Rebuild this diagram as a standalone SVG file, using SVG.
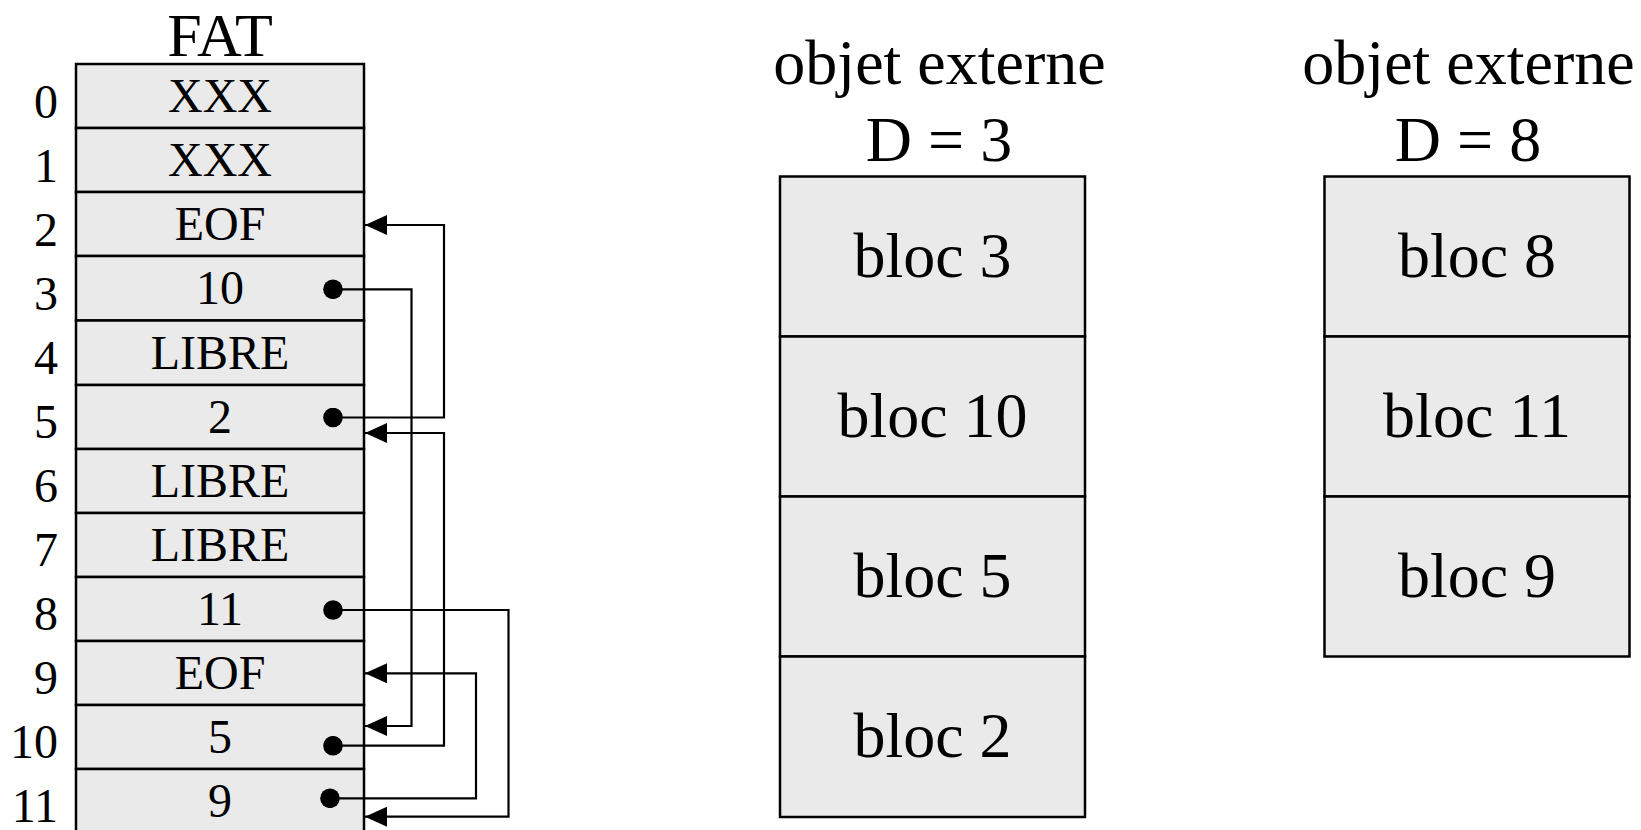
<svg xmlns="http://www.w3.org/2000/svg" width="1641" height="830" viewBox="0 0 1641 830">
<style>
text{font-family:"Liberation Serif","Times New Roman",serif;fill:#000;text-anchor:middle}
.big{font-size:64px}
.title{font-size:62px}
.mid{font-size:48px}
.idx{font-size:48px;text-anchor:end}
.cell{fill:#eaeaea;stroke:#000;stroke-width:2.5}
.conn{fill:none;stroke:#000;stroke-width:2.2;marker-start:url(#dot);marker-end:url(#arr)}
</style>
<defs>
<marker id="arr" markerUnits="userSpaceOnUse" viewBox="0 0 22 20" refX="22" refY="10" markerWidth="22" markerHeight="20" orient="auto">
<path d="M0,0 L22,10 L0,20 z" fill="#000"/>
</marker>
<marker id="dot" markerUnits="userSpaceOnUse" viewBox="0 0 20 20" refX="10" refY="10" markerWidth="20" markerHeight="20">
<circle cx="10" cy="10" r="9.8" fill="#000"/>
</marker>
</defs>
<rect width="1641" height="830" fill="#fff"/>

<g id="fat">
<text class="title" x="220" y="55.5">FAT</text>
<g id="fat-cells">
<rect class="cell" x="76" y="64" width="288" height="64"/>
<rect class="cell" x="76" y="128" width="288" height="64"/>
<rect class="cell" x="76" y="192" width="288" height="64"/>
<rect class="cell" x="76" y="256" width="288" height="64.5"/>
<rect class="cell" x="76" y="320.5" width="288" height="64.5"/>
<rect class="cell" x="76" y="385" width="288" height="64"/>
<rect class="cell" x="76" y="449" width="288" height="64"/>
<rect class="cell" x="76" y="513" width="288" height="64"/>
<rect class="cell" x="76" y="577" width="288" height="64"/>
<rect class="cell" x="76" y="641" width="288" height="64"/>
<rect class="cell" x="76" y="705" width="288" height="64"/>
<rect class="cell" x="76" y="769" width="288" height="64"/>
</g>
<g id="fat-values">
<text class="mid" x="220" y="112">XXX</text>
<text class="mid" x="220" y="176">XXX</text>
<text class="mid" x="220" y="240">EOF</text>
<text class="mid" x="220" y="304">10</text>
<text class="mid" x="220" y="368.5">LIBRE</text>
<text class="mid" x="220" y="432.5">2</text>
<text class="mid" x="220" y="496.5">LIBRE</text>
<text class="mid" x="220" y="560.5">LIBRE</text>
<text class="mid" x="220" y="624.5">11</text>
<text class="mid" x="220" y="688.5">EOF</text>
<text class="mid" x="220" y="752.5">5</text>
<text class="mid" x="220" y="816.5">9</text>
</g>
<g id="fat-index">
<text class="idx" x="58" y="117.5">0</text>
<text class="idx" x="58" y="181.5">1</text>
<text class="idx" x="58" y="245.5">2</text>
<text class="idx" x="58" y="309.5">3</text>
<text class="idx" x="58" y="373.5">4</text>
<text class="idx" x="58" y="437.5">5</text>
<text class="idx" x="58" y="501.5">6</text>
<text class="idx" x="58" y="565.5">7</text>
<text class="idx" x="58" y="629.5">8</text>
<text class="idx" x="58" y="693.5">9</text>
<text class="idx" x="58" y="757.5">10</text>
<text class="idx" x="58" y="821.5">11</text>
</g>
</g>

<g id="connectors">
<path class="conn" d="M333,289.3 H411.5 V726 H365"/>
<path class="conn" d="M333,417.5 H444 V225 H365"/>
<path class="conn" d="M333,610 H508.5 V816.7 H365"/>
<path class="conn" d="M333,745.7 H444 V433 H365"/>
<path class="conn" d="M330,798.3 H476 V673.3 H365"/>
</g>

<g id="objet-d3">
<text class="big" x="939.5" y="84">objet externe</text>
<text class="big" x="939" y="160.5">D = 3</text>
<rect class="cell" x="780" y="176.5" width="305" height="160"/>
<rect class="cell" x="780" y="336.5" width="305" height="160"/>
<rect class="cell" x="780" y="496.5" width="305" height="160"/>
<rect class="cell" x="780" y="656.5" width="305" height="160.5"/>
<text class="big" x="932.5" y="277">bloc 3</text>
<text class="big" x="932.5" y="437">bloc 10</text>
<text class="big" x="932.5" y="597">bloc 5</text>
<text class="big" x="932.5" y="757">bloc 2</text>
</g>

<g id="objet-d8">
<text class="big" x="1468.5" y="84">objet externe</text>
<text class="big" x="1468" y="160.5">D = 8</text>
<rect class="cell" x="1324.5" y="176.5" width="305" height="160"/>
<rect class="cell" x="1324.5" y="336.5" width="305" height="160"/>
<rect class="cell" x="1324.5" y="496.5" width="305" height="160"/>
<text class="big" x="1477" y="277">bloc 8</text>
<text class="big" x="1477" y="437">bloc 11</text>
<text class="big" x="1477" y="597">bloc 9</text>
</g>
</svg>
